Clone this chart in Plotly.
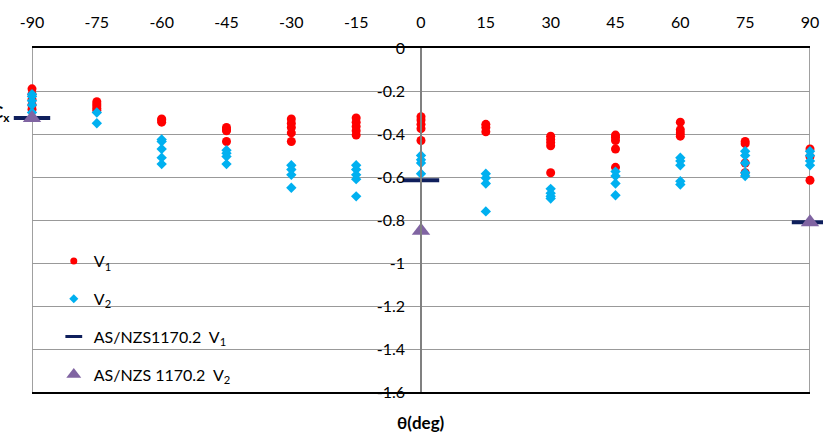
import plotly.graph_objects as go

angles = [-90, -75, -60, -45, -30, -15, 0, 15, 30, 45, 60, 75, 90]

v1_values = [
    [-0.19, -0.215, -0.24, -0.265, -0.285],
    [-0.25, -0.26, -0.27, -0.28, -0.29],
    [-0.33, -0.335, -0.345],
    [-0.37, -0.38, -0.385, -0.435],
    [-0.33, -0.35, -0.37, -0.395, -0.435],
    [-0.325, -0.345, -0.365, -0.385, -0.405],
    [-0.32, -0.335, -0.355, -0.375, -0.43],
    [-0.355, -0.37, -0.39],
    [-0.41, -0.425, -0.44, -0.455, -0.58],
    [-0.405, -0.415, -0.43, -0.47, -0.555],
    [-0.345, -0.38, -0.395, -0.41],
    [-0.435, -0.445, -0.535, -0.58],
    [-0.47, -0.505, -0.615],
]

v2_values = [
    [-0.215, -0.225, -0.245, -0.265, -0.30],
    [-0.30, -0.35],
    [-0.425, -0.435, -0.47, -0.51, -0.54],
    [-0.475, -0.49, -0.505, -0.54],
    [-0.545, -0.565, -0.59, -0.65],
    [-0.545, -0.565, -0.59, -0.61, -0.69],
    [-0.50, -0.52, -0.535, -0.585],
    [-0.585, -0.605, -0.63, -0.76],
    [-0.655, -0.675, -0.69, -0.70],
    [-0.575, -0.595, -0.63, -0.685],
    [-0.51, -0.525, -0.545, -0.62, -0.635],
    [-0.48, -0.50, -0.535, -0.58, -0.595],
    [-0.48, -0.50, -0.525, -0.545],
]

code_angles = [-90, 0, 90]
code_v1 = [-0.325, -0.615, -0.81]
code_v2 = [-0.325, -0.85, -0.81]

series_names = ["V<sub>1</sub>", "V<sub>2</sub>",
                "AS/NZS1170.2\u00a0\u00a0V<sub>1</sub>",
                "AS/NZS 1170.2\u00a0\u00a0V<sub>2</sub>"]

x_ticks = angles
x_ticktext = ["-90", "-75", "-60", "-45", "-30", "-15", "0", "15", "30", "45", "60", "75", "90"]
y_ticks = [0, -0.2, -0.4, -0.6, -0.8, -1.0, -1.2, -1.4, -1.6]
y_ticktext = ["0", "-0.2", "-0.4", "-0.6", "-0.8", "-1", "-1.2", "-1.4", "-1.6"]


def flatten(angle_list, groups):
    xs, ys = [], []
    for a, g in zip(angle_list, groups):
        for v in g:
            xs.append(a)
            ys.append(v)
    return xs, ys


FONT = "Lato, 'Open Sans', sans-serif"
RED, CYAN, NAVY, PURPLE = "#FF0000", "#00B0F0", "#0F1F5C", "#8064A2"

x1, y1 = flatten(angles, v1_values)
x2, y2 = flatten(angles, v2_values)

plot_markers = [
    dict(symbol="circle", size=9, color=RED),
    dict(symbol="diamond", size=8, color=CYAN),
    dict(symbol="line-ew", size=26, color=NAVY, line=dict(width=4, color=NAVY)),
    dict(symbol="triangle-up", size=16, color=PURPLE),
]
legend_markers = [
    dict(symbol="circle", size=7, color=RED),
    dict(symbol="diamond", size=7, color=CYAN),
    dict(symbol="line-ew", size=12, color=NAVY, line=dict(width=3, color=NAVY)),
    dict(symbol="triangle-up", size=13, color=PURPLE),
]
series_xy = [(x1, y1), (x2, y2), (code_angles, code_v1), (code_angles, code_v2)]

fig = go.Figure()
for (xs, ys), mk, nm in zip(series_xy, plot_markers, series_names):
    fig.add_trace(go.Scatter(x=xs, y=ys, mode="markers", name=nm, marker=mk,
                             showlegend=False, cliponaxis=False))
for i, (mk, nm) in enumerate(zip(legend_markers, series_names)):
    fig.add_trace(go.Scatter(x=[None], y=[None], mode="markers", name=nm, marker=mk,
                             legendgroup="g%d" % i, showlegend=True))

# plot-area borders (left / right gray)
for xv in (-90, 90):
    fig.add_shape(type="line", xref="x", yref="paper", x0=xv, x1=xv, y0=0, y1=1,
                  line=dict(color="#808080", width=1.5), layer="below")

fig.update_layout(
    width=823, height=434,
    margin=dict(l=32, r=13, t=48, b=42, autoexpand=False),
    paper_bgcolor="white", plot_bgcolor="white",
    font=dict(family=FONT, size=16, color="#000000"),
    showlegend=True,
    legend=dict(x=0.028, y=0.43, xanchor="left", yanchor="top",
                bgcolor="rgba(0,0,0,0)", tracegroupgap=14,
                font=dict(size=16), itemwidth=30),
    xaxis=dict(range=[-90, 90], side="top", tickvals=x_ticks, ticktext=x_ticktext,
               showgrid=False, zeroline=False, showline=True, mirror=True,
               linecolor="#000000", linewidth=1.5, ticks="",
               ticklabelstandoff=12, tickfont=dict(size=16), automargin=False),
    yaxis=dict(range=[-1.6, 0], tickvals=y_ticks, ticktext=y_ticktext,
               anchor="free", position=0.5, showline=True,
               linecolor="#808080", linewidth=1.5,
               showgrid=True, gridcolor="#999999", gridwidth=1.2,
               zeroline=False, ticks="", ticklabelstandoff=12,
               tickfont=dict(size=16), automargin=False),
    annotations=[
        dict(text="<b>θ(deg)</b>", xref="x", yref="paper", x=0, y=0, yshift=-30,
             showarrow=False, font=dict(size=17), xanchor="center", yanchor="middle"),
        dict(text="<b>C<sub>x</sub></b>", xref="paper", yref="y", x=-0.026, y=-0.30,
             showarrow=False, font=dict(size=17), xanchor="right", yanchor="middle"),
    ],
)

fig.write_html("out.html")
